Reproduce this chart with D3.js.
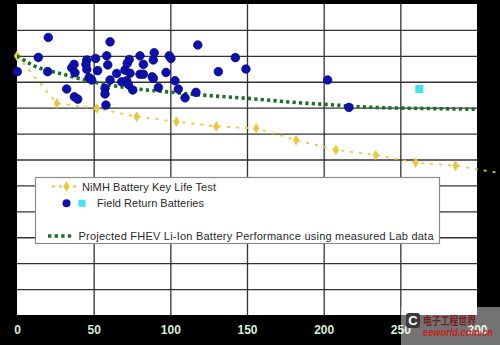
<!DOCTYPE html>
<html><head><meta charset="utf-8">
<script src="https://cdn.jsdelivr.net/npm/d3@7"></script>
<style>html,body{margin:0;padding:0;background:#000;}svg{display:block;}</style>
</head><body>
<script>
// ---- data ----
const xTicks = [0, 50, 100, 150, 200, 250, 300];
const yGrid = [0,10,20,30,40,50,60,70,80,90,100,110,120];
const nimhX = [0, 26, 52, 78, 104, 130, 156, 182, 208, 234, 260, 286, 312];
const nimhY = [100, 81.7, 79.7, 76.5, 74.6, 72.8, 72.0, 67.5, 63.7, 61.7, 58.8, 57.6, 55.0];
const liionX = [0, 10, 32, 54, 76, 98, 120, 150, 184, 200, 232, 265, 300];
const liionY = [100, 96.5, 92.6, 89.4, 87.4, 86.1, 84.9, 83.6, 81.9, 81.3, 80.1, 79.7, 79.4];
const fieldX = [20.4, 13.9, 0.2, 20.0, 32.4, 37.4, 39.6, 35.7, 37.2, 37.8, 45.5, 45.0, 45.5, 51.3, 52.6, 47.0, 48.7,
  60.7, 58.5, 59.2, 60.7, 65.0, 57.4, 57.4, 58.0, 68.3, 71.5, 72.6, 70.4, 71.9, 73.2, 73.7, 75.5, 80.2, 82.4, 80.2, 82.4,
  89.5, 88.9, 88.2, 88.9, 92.2, 97.2, 99.3, 100.4, 103.0, 105.2, 109.6, 116.7, 117.9, 131.3, 142.4, 149.3, 202.6, 216.5];
const fieldY = [107.1, 99.4, 93.9, 93.9, 87.2, 84.2, 83.3, 95.4, 96.7, 93.5, 98.4, 96.7, 94.8, 99.0, 94.3, 91.6, 90.7,
  105.4, 100.0, 96.5, 90.7, 93.2, 87.5, 85.3, 81.0, 90.0, 90.4, 89.0, 94.5, 97.1, 98.6, 93.3, 86.8, 100.0, 96.7, 92.9, 92.9,
  101.2, 98.4, 91.9, 91.3, 87.8, 93.6, 100.0, 99.0, 90.4, 87.2, 83.8, 85.9, 104.2, 93.9, 99.3, 94.9, 90.7, 80.1];
const fieldSqX = [262.4];
const fieldSqY = [87.2];
const legendLabels = ["NiMH  Battery  Key Life Test", "Field  Return  Batteries",
  "Projected  FHEV  Li-Ion Battery  Performance  using  measured  Lab data"];

// ---- drawing ----
const W = 500, H = 345;
const svg = d3.select("body").append("svg").attr("width", W).attr("height", H);
svg.append("rect").attr("width", W).attr("height", H).attr("fill", "#000");

const x = d3.scaleLinear().domain([0, 300]).range([17, 477]);
const y = d3.scaleLinear().domain([0, 120]).range([315, 4]);

const defs = svg.append("defs");
defs.append("clipPath").attr("id", "plotclip").append("rect")
  .attr("x", x(0)).attr("y", y(120)).attr("width", x(300) - x(0)).attr("height", y(0) - y(120));

// plot background
svg.append("rect").attr("x", x(0)).attr("y", y(120)).attr("width", x(300) - x(0)).attr("height", y(0) - y(120)).attr("fill", "#fff");

// grid via axes
const gx = svg.append("g").attr("transform", `translate(0,${y(0)})`)
  .call(d3.axisBottom(x).tickValues(xTicks).tickSize(-(y(0) - y(120))).tickFormat(d3.format("d")).tickPadding(10));
gx.select(".domain").remove();
gx.selectAll(".tick line").attr("stroke", "#333").attr("stroke-width", 1.3)
  .attr("display", d => (d === 0 || d === 300) ? "none" : null);
gx.selectAll(".tick text").attr("fill", "#d8efd6").attr("font-family", "Arial, 'Liberation Sans', sans-serif")
  .attr("font-weight", "bold").attr("font-size", 12);

const gy = svg.append("g").attr("transform", `translate(${x(0)},0)`)
  .call(d3.axisLeft(y).tickValues(yGrid).tickSize(-(x(300) - x(0))).tickFormat(""));
gy.select(".domain").remove();
gy.selectAll(".tick line").attr("stroke", "#333").attr("stroke-width", 1.3)
  .attr("display", d => (d === 0 || d === 120) ? "none" : null);

// series
const yellow = "#eec63c", green = "#1f6e2a", blue = "#0c10b0", cyan = "#40e4ee";
const nimh = nimhX.map((v, i) => [v, nimhY[i]]);
const liion = liionX.map((v, i) => [v, liionY[i]]);

const line = d3.line().x(d => x(d[0])).y(d => y(d[1]));
svg.append("path").datum(nimh).attr("d", line).attr("fill", "none")
  .attr("stroke", yellow).attr("stroke-width", 1.8).attr("stroke-dasharray", "3,6");
svg.selectAll(".nimhMark").data(nimh.filter(d => d[0] <= 300)).join("path")
  .attr("transform", d => `translate(${x(d[0])},${y(d[1])})`)
  .attr("d", d3.symbol(d3.symbolDiamond, 34)).attr("fill", yellow);

const lineC = d3.line().x(d => x(d[0])).y(d => y(d[1])).curve(d3.curveMonotoneX);
svg.append("path").datum(liion).attr("d", lineC).attr("fill", "none").attr("clip-path", "url(#plotclip)")
  .attr("stroke", green).attr("stroke-width", 3.6).attr("stroke-dasharray", "3.2,3.2");

const field = fieldX.map((v, i) => [v, fieldY[i]]);
svg.selectAll(".fd").data(field).join("circle")
  .attr("cx", d => x(d[0])).attr("cy", d => y(d[1])).attr("r", 4.3)
  .attr("fill", blue).attr("stroke", "#05056a").attr("stroke-width", 0.7);
const sq = fieldSqX.map((v, i) => [v, fieldSqY[i]]);
svg.selectAll(".fs").data(sq).join("rect")
  .attr("x", d => x(d[0]) - 4).attr("y", d => y(d[1]) - 4).attr("width", 8).attr("height", 8).attr("fill", cyan);

// legend
const lg = svg.append("g");
lg.append("rect").attr("x", 35.5).attr("y", 177.5).attr("width", 404).attr("height", 66)
  .attr("fill", "#fff").attr("stroke", "#8a8a8a").attr("stroke-width", 1.2);
const font = "Arial, 'Liberation Sans', sans-serif";
lg.append("line").attr("x1", 52).attr("x2", 76).attr("y1", 186.5).attr("y2", 186.5)
  .attr("stroke", yellow).attr("stroke-width", 1.8).attr("stroke-dasharray", "3,4");
lg.append("path").attr("transform", "translate(66.5,186.5)").attr("d", d3.symbol(d3.symbolDiamond, 34)).attr("fill", yellow);
lg.append("text").attr("x", 82).attr("y", 190.5).text(legendLabels[0]).attr("textLength", 134).attr("lengthAdjust", "spacing");
lg.append("circle").attr("cx", 66.5).attr("cy", 203.3).attr("r", 4).attr("fill", blue);
lg.append("rect").attr("x", 78.5).attr("y", 199.8).attr("width", 7).attr("height", 7).attr("fill", cyan);
lg.append("text").attr("x", 97).attr("y", 207.3).text(legendLabels[1]).attr("textLength", 107).attr("lengthAdjust", "spacing");
lg.append("line").attr("x1", 48).attr("x2", 73).attr("y1", 236).attr("y2", 236)
  .attr("stroke", green).attr("stroke-width", 3.4).attr("stroke-dasharray", "3.4,3.2");
lg.append("text").attr("x", 78.5).attr("y", 240).text(legendLabels[2]).attr("textLength", 355).attr("lengthAdjust", "spacing");
lg.selectAll("text").attr("font-family", font).attr("font-size", 11).attr("fill", "#2a2a2a");

// watermark
const wm = svg.append("g");
wm.append("rect").attr("x", 401).attr("y", 307).attr("width", 99).attr("height", 38).attr("fill", "#fff").attr("opacity", 0.45);
wm.append("rect").attr("x", 406).attr("y", 313).attr("width", 14).attr("height", 15).attr("rx", 3).attr("fill", "#3a3a3a");
wm.append("text").attr("x", 413).attr("y", 325).attr("text-anchor", "middle").attr("font-family", font)
  .attr("font-weight", "bold").attr("font-size", 13).attr("fill", "#fff").text("C");
wm.append("text").attr("x", 423).attr("y", 325).attr("font-family", "'Noto Sans CJK SC', sans-serif")
  .attr("font-weight", "bold").attr("font-size", 11).attr("fill", "#7a1f1f").text("电子工程世界")
  .attr("textLength", 53).attr("lengthAdjust", "spacingAndGlyphs");
wm.append("text").attr("x", 423).attr("y", 336).attr("font-family", font).attr("font-style", "italic")
  .attr("font-weight", "bold").attr("font-size", 10).attr("fill", "#c8231c").text("eeworld.com.cn")
  .attr("textLength", 70).attr("lengthAdjust", "spacingAndGlyphs");
</script>
</body></html>
